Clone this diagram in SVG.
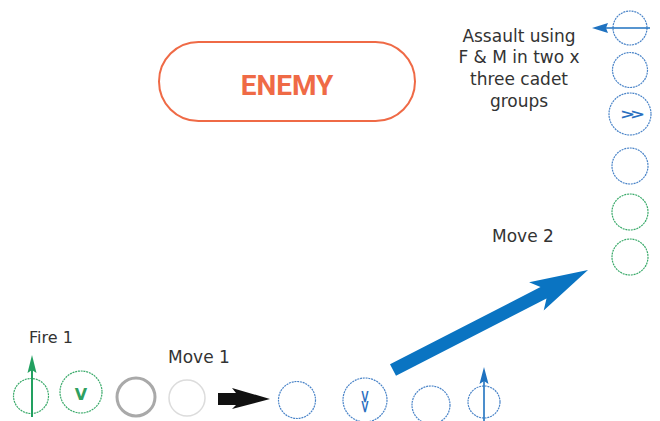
<svg xmlns="http://www.w3.org/2000/svg" width="660" height="421" viewBox="0 0 660 421">
<style>
.lbl{font-family:"DejaVu Sans",sans-serif;font-size:17px;fill:#333}
.blue{fill:none;stroke:#4a84c8;stroke-width:1.2;stroke-dasharray:2 0.8}
.green{fill:none;stroke:#3aaa6a;stroke-width:1.2;stroke-dasharray:2 0.8}
.glyphB{font-family:"DejaVu Sans",sans-serif;font-weight:bold;font-size:18px;letter-spacing:-5px;fill:#2a6fbf;text-anchor:middle}
</style>
<rect width="660" height="421" fill="#fff"/>
<g id="enemy">
<rect x="159" y="42" width="256" height="79" rx="39.5" fill="none" stroke="#ef6a46" stroke-width="2"/>
<text x="287" y="95" font-family="Roboto,'Liberation Sans',sans-serif" font-weight="bold" font-size="28" fill="#ef6a46" text-anchor="middle">ENEMY</text>
</g>
<g id="assault-label">
<text class="lbl" text-anchor="middle"><tspan x="519" y="41.5">Assault using</tspan><tspan x="519" y="63">F &amp; M in two x</tspan><tspan x="519" y="85">three cadet</tspan><tspan x="519" y="106.5">groups</tspan></text>
</g>
<g id="labels">
<text class="lbl" x="492" y="242">Move 2</text>
<text class="lbl" x="168" y="363">Move 1</text>
<text class="lbl" x="29" y="343" style="font-size:16px">Fire 1</text>
</g>
<g id="column">
<circle id="c1" class="blue" cx="630" cy="28" r="17"/>
<circle id="c2" class="blue" cx="630" cy="70" r="17.5"/>
<g id="c3"><circle class="blue" cx="630" cy="114" r="21"/><text class="glyphB" x="2" y="6.5" transform="translate(628 114) scale(1 0.75)">&gt;&gt;</text></g>
<circle id="c4" class="blue" cx="630" cy="166" r="18"/>
<circle id="c5" class="green" cx="630" cy="212" r="18"/>
<circle id="c6" class="green" cx="630" cy="257" r="18"/>
</g>
<g id="bottom">
<circle id="fire" class="green" cx="31" cy="396" r="17.5"/>
<g id="v"><circle class="green" cx="81" cy="392" r="21"/><text x="81" y="400" font-family="'DejaVu Sans',sans-serif" font-weight="bold" font-size="16" fill="#2fa060" text-anchor="middle">V</text></g>
<circle id="gray" cx="136" cy="397" r="19" fill="none" stroke="#a9a9a9" stroke-width="3"/>
<circle id="light" cx="187" cy="398" r="18" fill="none" stroke="#dcdcdc" stroke-width="1.5"/>
<circle id="b1" class="blue" cx="297" cy="400" r="18.5"/>
<g id="vv"><circle class="blue" cx="365" cy="400" r="22"/><text class="glyphB" x="2" y="6.5" transform="translate(366 397) rotate(90) scale(1 0.7)">&gt;&gt;</text></g>
<circle id="b3" class="blue" cx="431" cy="405" r="19"/>
<circle id="b4" class="blue" cx="484" cy="402" r="16"/>
</g>
<g id="connectors">
<line x1="650" y1="28" x2="604" y2="28" stroke="#1f72c0" stroke-width="1.6"/>
<polygon points="592,28 608,23 606,28 608,33" fill="#1f72c0"/>
<line x1="32" y1="417" x2="32" y2="368" stroke="#22a060" stroke-width="2"/>
<polygon points="32,355 36.5,373 32,370 27.5,373" fill="#22a060"/>
<line x1="484" y1="421" x2="484" y2="380" stroke="#1f72c0" stroke-width="1.6"/>
<polygon points="484,367 488.5,384 484,381 479.5,384" fill="#1f72c0"/>
<polygon points="218,393 236,393 232,388 270,399 232,409 236,405 218,405" fill="#111"/>
<polygon points="390,364.2 540.5,287 529.1,282.2 588,270 543.7,310.6 546.5,298.6 396,375.8" fill="#0a74c2"/>
</g>
</svg>
